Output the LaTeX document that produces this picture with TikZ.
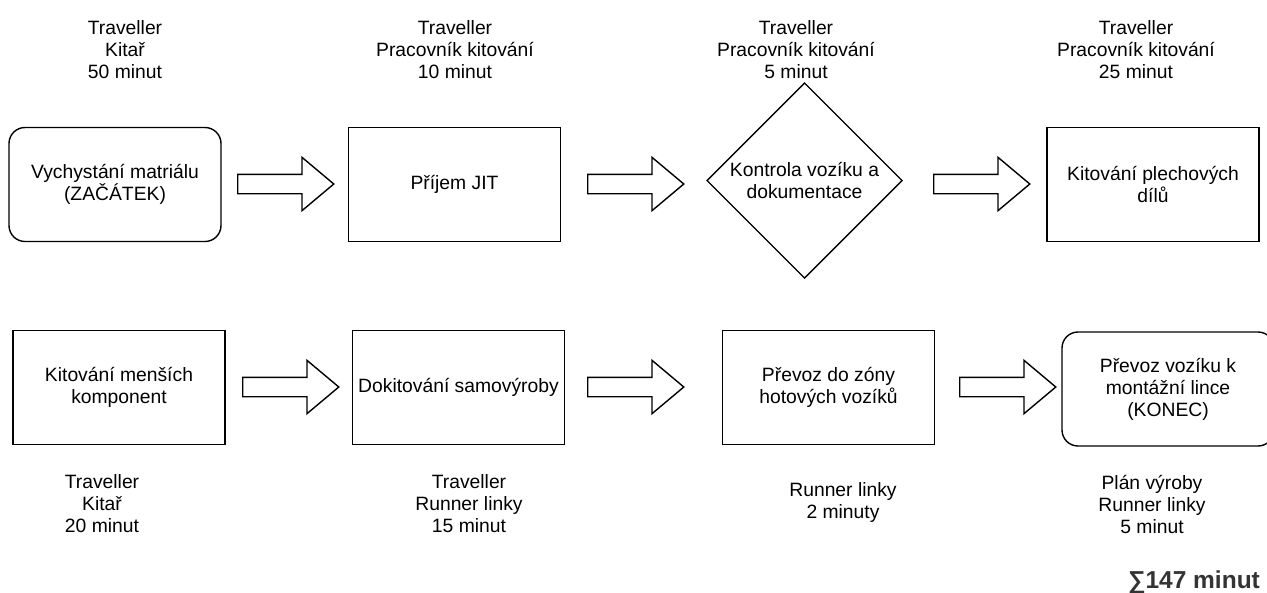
\documentclass[tikz,border=0pt]{standalone}
\usepackage{fontspec}
\setmainfont{Liberation Sans}
\usetikzlibrary{shapes.geometric,shapes.arrows}
\definecolor{sumgray}{HTML}{333333}
\begin{document}
\begin{tikzpicture}[x=1pt,y=-1pt,
  every node/.style={font=\fontsize{19.3}{22}\selectfont, inner sep=0pt, outer sep=0pt},
  stepbox/.style={draw, line width=1.4pt, minimum width=212pt, minimum height=114pt, align=center},
  endbox/.style={stepbox, rounded corners=16pt},
  decision/.style={draw, diamond, line width=1.4pt, minimum width=195pt, minimum height=195pt},
  flowarrow/.style={draw, single arrow, line width=1.4pt, minimum height=96pt, minimum width=52pt,
    single arrow head extend=17pt, single arrow tip angle=80, inner xsep=0pt, inner ysep=9pt},
  info/.style={align=center},
  total/.style={font=\fontsize{24.5}{28}\selectfont\bfseries, text=sumgray}
]
\useasboundingbox (0,0) rectangle (1267,592);

% upper row of steps
\node[endbox]   (start) at (115,184.5)   {Vychystání matriálu\\(ZAČÁTEK)};
\node[stepbox]  (jit)   at (454.5,184.5) {Příjem JIT};
\node[decision] (check) at (804.5,180.5) {};
\node[info]     (checktext) at (check)   {Kontrola vozíku a\\dokumentace};
\node[stepbox]  (sheet) at (1153,184.5)  {Kitování plechových\\dílů};

% lower row of steps
\node[stepbox]  (small)  at (119,387.5)   {Kitování menších\\komponent};
\node[stepbox]  (self)   at (458.5,387.5) {Dokitování samovýroby};
\node[stepbox]  (zone)   at (828.5,387.5) {Převoz do zóny\\hotových vozíků};
\node[endbox]   (finish) at (1168,389)    {Převoz vozíku k\\montážní lince\\(KONEC)};

% block arrows between the steps
\node[flowarrow] (a1) at (280,184) {};
\node[flowarrow] (a2) at (630,184) {};
\node[flowarrow] (a3) at (976,184) {};
\node[flowarrow] (a4) at (285,387) {};
\node[flowarrow] (a5) at (630,387) {};
\node[flowarrow] (a6) at (1002,387) {};

% responsibilities and durations
\node[info] (t1) at (125,49.5)  {Traveller\\Kitař\\50 minut};
\node[info] (t2) at (455,49.5)  {Traveller\\Pracovník kitování\\10 minut};
\node[info] (t3) at (796,49.5)  {Traveller\\Pracovník kitování\\5 minut};
\node[info] (t4) at (1136,49.5) {Traveller\\Pracovník kitování\\25 minut};
\node[info] (b1) at (102,504)   {Traveller\\Kitař\\20 minut};
\node[info] (b2) at (469,504)   {Traveller\\Runner linky\\15 minut};
\node[info] (b3) at (843,503)   {Runner linky\\2 minuty};
\node[info] (b4) at (1152,504)  {Plán výroby\\Runner linky\\5 minut};

% total time
\node[total] (sum) at (1194,582) {∑147 minut};
\end{tikzpicture}
\end{document}
